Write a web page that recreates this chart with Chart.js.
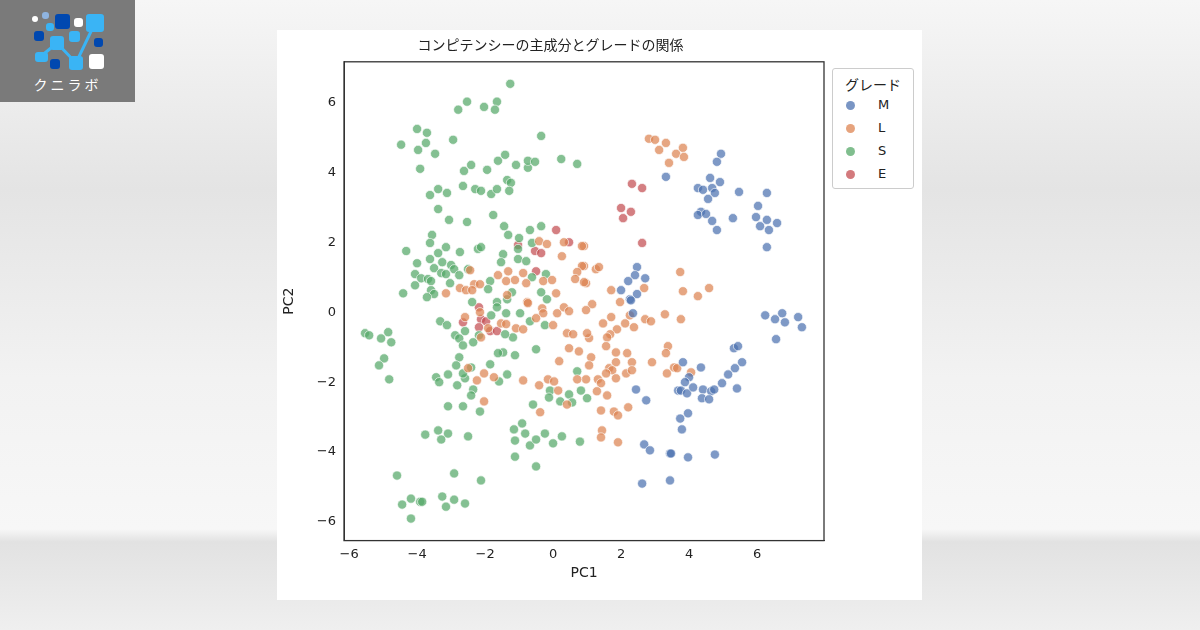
<!DOCTYPE html>
<html><head><meta charset="utf-8">
<script src="https://cdn.jsdelivr.net/npm/chart.js@4"></script>
<style>
body{margin:0;width:1200px;height:630px;overflow:hidden;font-family:"Noto Sans CJK JP","DejaVu Sans",sans-serif;
background:linear-gradient(180deg,#f6f6f6 0%,#e4e4e4 30%,#f2f2f2 60%,#f7f7f7 84%,#e2e2e2 86%,#efefef 100%);}
#logo{position:absolute;left:0;top:0;width:135px;height:102px;background:#7a7a7a;}
#logo .s{position:absolute;border-radius:3px}
#logo svg{position:absolute;left:0;top:0}
#logo .t{position:absolute;left:0;width:135px;top:74px;text-align:center;color:#fff;font-size:14px;letter-spacing:3px}
#panel{position:absolute;left:277px;top:30px;width:645px;height:570px;background:#fff}
#legend{position:absolute;left:832px;top:68px;width:80px;height:119px;border:1px solid #ccc;border-radius:3px;background:#fff;font-family:"DejaVu Sans";font-size:13px;color:#222}
#legend .h{text-align:center;margin-top:5px;font-family:"Noto Sans CJK JP";font-size:14px}
#legend .r{height:23px;position:relative}
#legend .d{position:absolute;left:13px;top:7px;width:9px;height:9px;border-radius:50%;opacity:.75}
#legend .l{position:absolute;left:45px;top:3px}
</style></head><body>
<div id="logo">
<svg width="135" height="102"><polyline points="40,57 57,43 76,63 95,23" fill="none" stroke="#3ab4f5" stroke-width="3"/></svg>
<div class="s" style="left:32px;top:16px;width:6px;height:6px;background:#fff"></div>
<div class="s" style="left:42px;top:12px;width:7px;height:7px;background:#8fb4e0"></div>
<div class="s" style="left:55px;top:14px;width:15px;height:15px;background:#0048b0"></div>
<div class="s" style="left:74px;top:18px;width:9px;height:9px;background:#fff"></div>
<div class="s" style="left:86px;top:14px;width:18px;height:18px;background:#3ab4f5"></div>
<div class="s" style="left:46px;top:23px;width:8px;height:8px;background:#3ab4f5"></div>
<div class="s" style="left:34px;top:31px;width:10px;height:10px;background:#0048b0"></div>
<div class="s" style="left:69px;top:31px;width:11px;height:11px;background:#3ab4f5"></div>
<div class="s" style="left:94px;top:38px;width:9px;height:9px;background:#0048b0"></div>
<div class="s" style="left:50px;top:36px;width:14px;height:14px;background:#3ab4f5"></div>
<div class="s" style="left:35px;top:52px;width:13px;height:10px;background:#3ab4f5"></div>
<div class="s" style="left:50px;top:59px;width:10px;height:10px;background:#0048b0"></div>
<div class="s" style="left:69px;top:56px;width:14px;height:14px;background:#3ab4f5"></div>
<div class="s" style="left:89px;top:54px;width:15px;height:15px;background:#fff"></div>
<div class="t">クニラボ</div>
</div>
<div id="panel"><canvas id="chart" width="645" height="570"></canvas></div>
<div id="legend">
<div class="h">グレード</div>
<div class="r"><span class="d" style="background:#4c72b0"></span><span class="l">M</span></div>
<div class="r"><span class="d" style="background:#dd8452"></span><span class="l">L</span></div>
<div class="r"><span class="d" style="background:#55a868"></span><span class="l">S</span></div>
<div class="r"><span class="d" style="background:#c44e52"></span><span class="l">E</span></div>
</div>
<script>
const grades = ["M", "L", "S", "E"];
const colors = ["#4c72b0", "#dd8452", "#55a868", "#c44e52"];
const xTicks = [-6, -4, -2, 0, 2, 4, 6];

// グレードごとの [PC1, PC2]
const pointsM = [[4.94,4.53],[4.82,4.3],[3.32,3.87],[4.62,3.84],[4.91,3.72],[4.26,3.55],[4.41,3.5],[4.68,3.55],[4.76,3.41],[5.47,3.44],[6.29,3.41],[4.56,3.24],[6.03,3.04],[4.35,2.87],[4.26,2.78],[4.5,2.81],[5.29,2.69],[5.97,2.72],[6.29,2.64],[6.09,2.46],[6.35,2.35],[6.59,2.55],[4.68,2.61],[4.82,2.35],[6.29,1.86],
[2.47,1.29],[2.41,1.06],[2.71,0.97],[2.21,0.89],[2.0,0.63],[2.47,0.52],[2.26,0.37],
[6.24,-0.09],[6.53,-0.2],[6.74,-0.03],[6.82,-0.29],[7.21,-0.14],[7.32,-0.43],[6.56,-0.77],[2.35,-0.03],[2.29,0.34],
[5.32,-1.03],[5.44,-0.97],[5.56,-1.43],[5.35,-1.6],[5.15,-1.78],[4.97,-2.03],[5.41,-2.18],[4.35,-1.58],[3.82,-1.43],[4.0,-1.86],[3.88,-2.0],[3.68,-2.24],[3.76,-2.24],[3.94,-2.32],[4.12,-2.15],[4.41,-2.21],[4.65,-2.26],[4.74,-2.21],[4.38,-2.46],[4.59,-2.49],[2.44,-2.21],[2.74,-2.52],[3.74,-3.04],[3.97,-2.89],[3.79,-3.35],[2.68,-3.78],[2.85,-3.95],[3.44,-4.04],[3.47,-4.04],[3.97,-4.15],[4.76,-4.07],[2.62,-4.9],[3.44,-4.81]];
const pointsL = [[2.82,4.96],[3.0,4.93],[3.32,4.84],[3.12,4.64],[3.62,4.53],[3.82,4.7],[3.85,4.44],[3.41,4.27],
[3.74,1.15],[3.82,0.6],[4.59,0.69],[4.26,0.46],[2.68,0.69],[1.71,0.63],[0.91,1.89],[0.91,1.32],[1.26,1.23],[1.35,1.29],[0.97,0.83],
[1.15,0.23],[1.97,0.29],[0.97,0.06],[1.71,-0.14],[1.47,-0.32],[2.12,-0.32],[2.26,-0.09],[2.71,-0.2],[2.88,-0.26],[3.29,-0.06],[3.76,-0.2],[2.38,-0.43],[1.88,-0.49],[1.68,-0.63],[1.59,-0.72],[1.06,-0.74],[1.0,-0.6],[1.56,-0.97],[1.85,-1.15],[2.18,-1.17],[3.38,-0.97],[3.32,-1.17],[1.12,-1.29],[1.06,-1.52],[1.65,-1.6],[1.85,-1.43],[2.32,-1.43],[2.91,-1.43],[1.74,-1.66],[1.56,-1.75],[2.15,-1.75],[2.32,-1.66],[3.35,-1.75],[3.56,-1.58],[3.65,-1.6],[4.06,-1.72],[0.97,-1.92],[1.32,-1.92],[1.85,-1.89],[1.41,-2.03],[1.29,-2.26],[1.59,-2.38],[1.41,-2.81],[1.79,-2.84],[1.91,-2.95],[2.21,-2.72],[1.44,-3.38],[1.41,-3.58],[1.91,-3.72],
[-0.41,2.03],[-0.18,1.95],[0.32,2.0],[0.85,1.89],[0.26,1.6],[0.85,1.32],[0.71,1.15],[0.65,0.95],[0.91,0.86],[-1.62,1.06],[-1.32,1.17],[-1.38,0.89],[-1.12,0.92],[-0.88,1.12],[-0.79,0.83],[-0.29,0.89],[-0.03,0.92],[0.09,0.54],[-2.44,1.2],[-2.32,0.8],[-2.15,0.8],[-2.74,0.69],[-2.56,0.63],[-2.38,0.63],[-3.15,0.54],[-1.35,0.49],[-0.76,0.29],
[-2.59,-0.14],[-2.15,0.0],[-1.53,-0.32],[-1.38,-0.34],[-1.09,-0.46],[-0.88,-0.49],[-1.91,-0.46],[-0.74,0.26],[-0.32,0.11],[-0.29,-0.03],[0.12,-0.03],[0.32,0.14],[0.47,0.03],[-0.5,-0.17],[0.0,-0.37],[0.41,-0.6],[0.59,-0.63],[0.47,-1.03],[0.76,-1.12],[0.18,-1.4],[0.71,-1.92],[-0.15,-1.92],[0.03,-1.98],[-0.41,-2.09],[0.15,-2.24],[0.41,-2.64],[-0.38,-2.86],[-0.88,-1.95],[-1.74,-1.86],[-2.03,-1.75],[-2.24,-1.95],[-2.5,-1.6],[-2.03,-2.55],[-2.12,-0.72]];
const pointsS = [[-1.26,6.53],[-2.53,6.02],[-2.79,5.79],[-2.03,5.87],[-1.65,6.02],[-1.71,5.79],[-4.0,5.24],[-3.71,5.13],[-4.47,4.79],[-3.74,4.84],[-3.97,4.64],[-3.47,4.53],[-2.94,4.93],[-0.35,5.04],[-3.91,4.1],[-2.62,4.04],[-2.41,4.21],[-1.94,4.07],[-1.62,4.33],[-1.41,4.5],[-1.09,4.21],[-0.74,4.13],[-0.74,4.33],[-0.53,4.3],[0.24,4.38],[0.71,4.24],
[-3.38,3.52],[-3.62,3.35],[-3.12,3.41],[-2.65,3.61],[-2.29,3.52],[-2.12,3.47],[-1.82,3.38],[-1.65,3.52],[-1.35,3.78],[-1.24,3.7],[-1.29,3.47],[-3.38,2.95],[-3.06,2.64],[-2.53,2.58],[-1.76,2.78],[-1.44,2.46],[-1.32,2.21],[-1.0,2.12],[-0.68,2.35],[-0.35,2.46],[-3.56,2.21],[-3.62,1.98],[-4.32,1.75],[-3.15,1.86],[-2.74,1.72],[-3.38,1.69],[-2.21,1.81],[-2.12,1.86],[-1.47,1.66],[-1.03,1.81],[-1.03,1.52],[-0.79,1.46],[-0.62,1.98],[-4.0,1.4],[-3.62,1.52],[-3.26,1.43],[-3.5,1.26],[-3.0,1.35],[-2.91,1.23],[-1.53,1.43],[-4.06,1.09],[-3.88,0.97],[-3.29,1.12],[-3.15,1.09],[-2.76,1.06],[-2.5,1.23],[-3.68,0.95],[-3.59,0.89],[-3.03,0.83],[-4.06,0.77],[-1.85,0.89],[-4.41,0.54],[-3.59,0.63],[-3.5,0.52],[-3.71,0.43],[-1.91,0.66],[-1.21,0.57],[-2.38,0.29],[-1.65,0.29],[-1.35,0.37],[-0.62,1.0],[-0.21,1.09],[-0.35,0.57],[-0.18,0.37],
[-5.53,-0.6],[-5.41,-0.66],[-5.06,-0.75],[-4.85,-0.57],[-4.76,-0.86],[-4.97,-1.32],[-5.12,-1.52],[-4.82,-1.92],[-3.32,-0.26],[-3.12,-0.37],[-2.88,-0.66],[-2.76,-0.75],[-2.59,-0.54],[-2.65,-0.95],[-2.35,-0.86],[-2.18,-0.66],[-1.82,-0.09],[-1.65,0.14],[-1.38,-0.03],[-0.97,-0.03],[-1.18,-0.72],[-1.41,-0.63],[-1.47,-1.15],[-1.62,-1.17],[-1.12,-1.23],[-0.5,-1.06],[-2.76,-1.29],[-2.85,-1.52],[-3.09,-1.78],[-3.44,-1.86],[-3.35,-2.0],[-2.82,-2.09],[-2.59,-1.89],[-2.65,-1.75],[-2.41,-1.58],[-1.85,-1.49],[-1.59,-1.98],[-1.35,-1.78],[-2.35,-2.21],[-2.41,-2.38],[-3.09,-2.69],[-2.65,-2.69],[-2.15,-2.84],[-3.76,-3.5],[-3.38,-3.38],[-3.09,-3.47],[-3.29,-3.64],[-2.5,-3.55],[-1.15,-3.35],[-0.91,-3.18],[-0.82,-3.47],[-1.12,-3.67],[-0.68,-3.81],[-0.5,-3.64],[-0.24,-3.47],[0.0,-3.75],[0.26,-3.55],[0.79,-3.7],[-1.12,-4.13],[-0.5,-4.41],[-4.59,-4.67],[-2.91,-4.61],[-2.12,-4.81],[-4.44,-5.5],[-4.18,-5.33],[-3.91,-5.42],[-3.85,-5.42],[-3.26,-5.27],[-3.15,-5.56],[-2.91,-5.36],[-2.59,-5.47],[-4.18,-5.9],[-0.59,-2.64],[-0.09,-2.24],[-0.12,-2.44],[0.21,-2.55],[0.47,-2.35],[0.56,-2.58],[0.71,-1.69],[0.82,-2.24],[-0.68,-0.26],[-0.24,-0.37],[1.0,-2.46]];
const pointsE = [[2.32,3.67],[2.62,3.55],[2.0,2.98],[2.29,2.87],[2.06,2.69],[2.62,1.98],
[0.09,2.35],[0.47,2.0],[-1.03,1.92],[-0.53,1.75],[-0.35,1.69],[-0.5,1.17],
[-2.18,0.14],[-2.65,-0.29],[-2.12,-0.2],[-1.97,-0.26],[-2.18,-0.43],[-1.85,-0.54],[-1.65,-0.54]];
const series = [pointsM, pointsL, pointsS, pointsE];

const frame = {
  id: "frame",
  afterDraw(c) {
    const a = c.chartArea, g = c.ctx;
    g.save(); g.strokeStyle = "#333"; g.lineWidth = 1.3;
    g.strokeRect(a.left, a.top, a.right - a.left, a.bottom - a.top);
    g.restore();
  }
};

const minus = v => String(v).replace("-", "\u2212");
Chart.defaults.font.family = "'DejaVu Sans'";
Chart.defaults.color = "#222";

new Chart(document.getElementById("chart"), {
  type: "scatter",
  data: {
    datasets: grades.map((g, i) => ({
      label: g,
      data: series[i].map(p => ({ x: p[0], y: p[1] })),
      backgroundColor: colors[i] + "b8",
      borderColor: "rgba(255,255,255,0.8)",
      borderWidth: 0.8,
      pointRadius: 4.6
    }))
  },
  options: {
    responsive: false,
    animation: false,
    layout: { padding: { left: 0, right: 98, top: 0, bottom: 18 } },
    plugins: {
      legend: { display: false },
      tooltip: { enabled: false },
      title: { display: true, text: "コンピテンシーの主成分とグレードの関係", color: "#222",
        font: { family: "'Noto Sans CJK JP'", size: 14, weight: "normal" }, padding: { top: 6, bottom: 9 } }
    },
    scales: {
      x: {
        type: "linear", min: -6.15, max: 7.97,
        afterBuildTicks: ax => { ax.ticks = xTicks.map(v => ({ value: v })); },
        ticks: { callback: minus, font: { size: 13 }, padding: 2 },
        grid: { display: false, drawTicks: true, tickLength: 4, tickColor: "#333" },
        border: { color: "#333" },
        title: { display: true, text: "PC1", font: { size: 14 }, padding: { top: 1, bottom: 0 } }
      },
      y: {
        type: "linear", min: -6.53, max: 7.16,
        afterBuildTicks: ax => { ax.ticks = xTicks.map(v => ({ value: v })); },
        afterFit: ax => { ax.width = 67; },
        ticks: { callback: minus, font: { size: 13 }, padding: 4 },
        grid: { display: false, tickLength: 4, tickColor: "#333" },
        border: { color: "#333" },
        title: { display: true, text: "PC2", font: { size: 14 } }
      }
    }
  },
  plugins: [frame]
});
</script>
</body></html>
